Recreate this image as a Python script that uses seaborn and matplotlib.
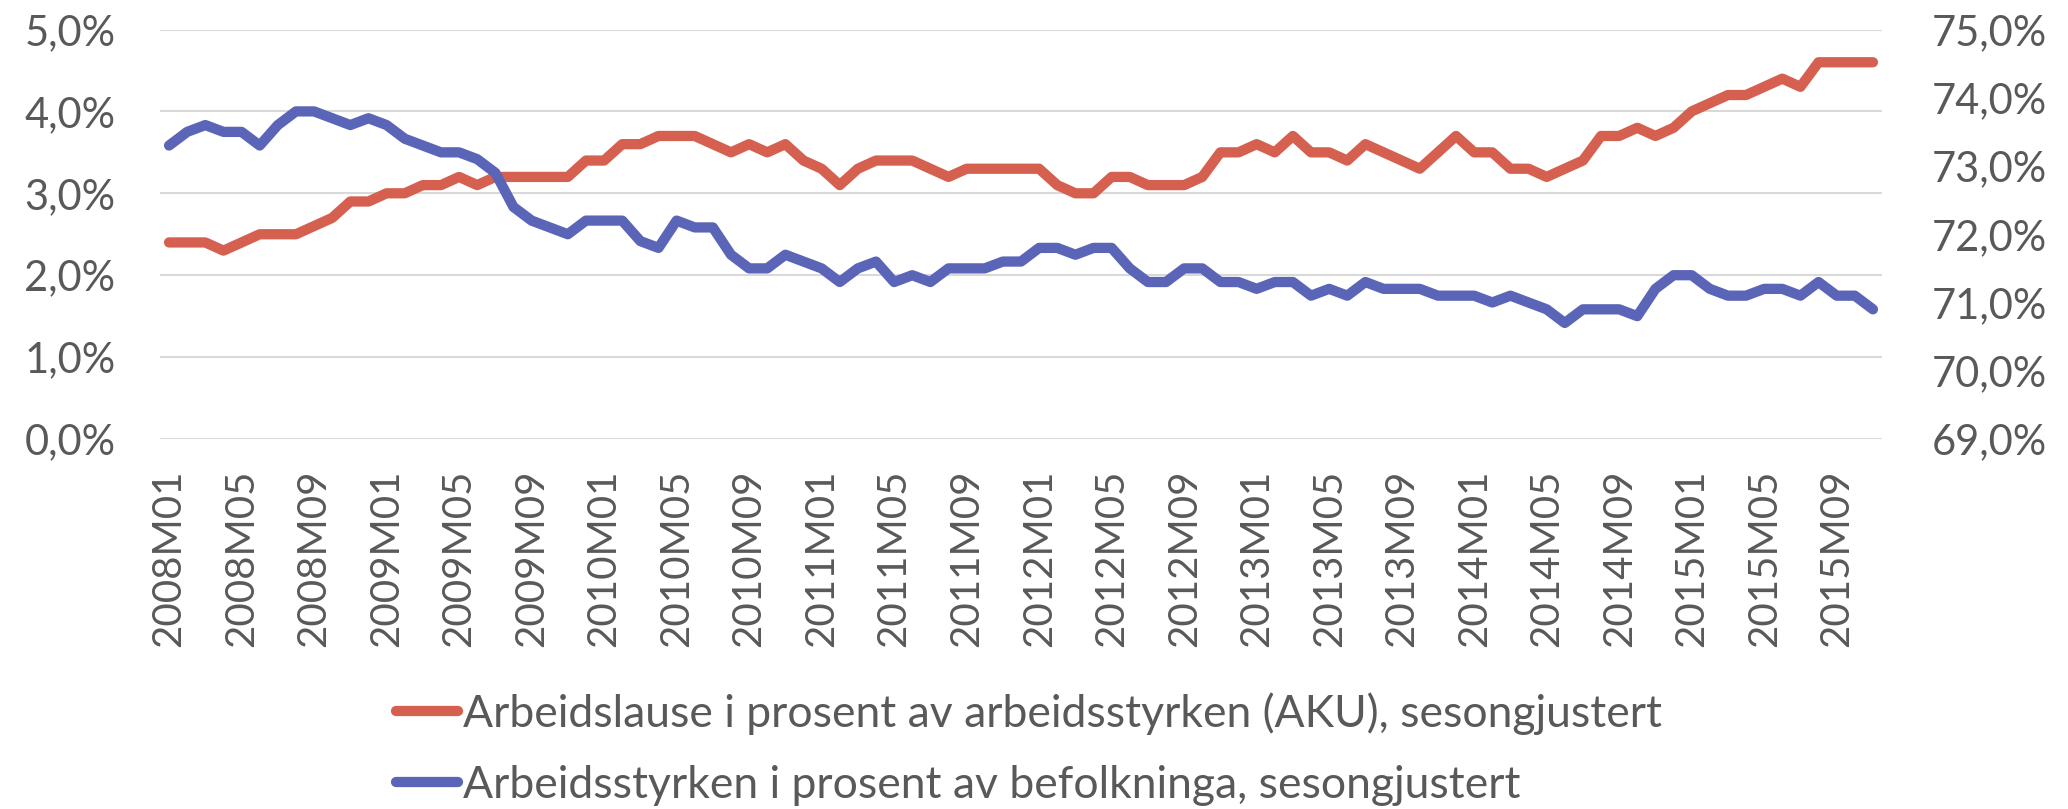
import numpy as np
import pandas as pd
import matplotlib
matplotlib.use("Agg")
import matplotlib.pyplot as plt
import seaborn as sns

# ---- data ----
years = list(range(2008, 2016))
months = [f"{y}M{m:02d}" for y in years for m in range(1, 13)][:95]  # 2008M01 .. 2015M11

unemployment = [
    2.4, 2.4, 2.4, 2.3, 2.4, 2.5, 2.5, 2.5, 2.6, 2.7, 2.9, 2.9, 3.0, 3.0, 3.1, 3.1,
    3.2, 3.1, 3.2, 3.2, 3.2, 3.2, 3.2, 3.4, 3.4, 3.6, 3.6, 3.7, 3.7, 3.7, 3.6, 3.5,
    3.6, 3.5, 3.6, 3.4, 3.3, 3.1, 3.3, 3.4, 3.4, 3.4, 3.3, 3.2, 3.3, 3.3, 3.3, 3.3,
    3.3, 3.1, 3.0, 3.0, 3.2, 3.2, 3.1, 3.1, 3.1, 3.2, 3.5, 3.5, 3.6, 3.5, 3.7, 3.5,
    3.5, 3.4, 3.6, 3.5, 3.4, 3.3, 3.5, 3.7, 3.5, 3.5, 3.3, 3.3, 3.2, 3.3, 3.4, 3.7,
    3.7, 3.8, 3.7, 3.8, 4.0, 4.1, 4.2, 4.2, 4.3, 4.4, 4.3, 4.6, 4.6, 4.6, 4.6,
]

labour_force = [
    73.3, 73.5, 73.6, 73.5, 73.5, 73.3, 73.6, 73.8, 73.8, 73.7, 73.6, 73.7, 73.6, 73.4, 73.3, 73.2,
    73.2, 73.1, 72.9, 72.4, 72.2, 72.1, 72.0, 72.2, 72.2, 72.2, 71.9, 71.8, 72.2, 72.1, 72.1, 71.7,
    71.5, 71.5, 71.7, 71.6, 71.5, 71.3, 71.5, 71.6, 71.3, 71.4, 71.3, 71.5, 71.5, 71.5, 71.6, 71.6,
    71.8, 71.8, 71.7, 71.8, 71.8, 71.5, 71.3, 71.3, 71.5, 71.5, 71.3, 71.3, 71.2, 71.3, 71.3, 71.1,
    71.2, 71.1, 71.3, 71.2, 71.2, 71.2, 71.1, 71.1, 71.1, 71.0, 71.1, 71.0, 70.9, 70.7, 70.9, 70.9,
    70.9, 70.8, 71.2, 71.4, 71.4, 71.2, 71.1, 71.1, 71.2, 71.2, 71.1, 71.3, 71.1, 71.1, 70.9,
]

label_unemp = "Arbeidslause i prosent av arbeidsstyrken (AKU), sesongjustert"
label_lf = "Arbeidsstyrken i prosent av befolkninga, sesongjustert"

left_ticks = [0, 1, 2, 3, 4, 5]
right_ticks = [69, 70, 71, 72, 73, 74, 75]

# ---- style ----
sns.set_theme(style="white")
plt.rcParams["font.family"] = ["Lato", "DejaVu Sans"]

RED = "#D5604F"
BLUE = "#5B65B8"
TXT = "#595959"
GRID = "#D9D9D9"

df = pd.DataFrame({
    "idx": np.arange(len(months)),
    "month": months,
    "unemp": unemployment,
    "lf": labour_force,
})

W, H = 2068, 809
fig = plt.figure(figsize=(W / 100, H / 100), dpi=100)
ax = fig.add_axes([160 / W, 1 - 439 / H, (1882 - 160) / W, (439 - 29.5) / H])
ax2 = ax.twinx()

sns.lineplot(data=df, x="idx", y="unemp", ax=ax, color=RED, linewidth=7.4,
             solid_capstyle="round", solid_joinstyle="round", label=label_unemp, legend=False)
sns.lineplot(data=df, x="idx", y="lf", ax=ax2, color=BLUE, linewidth=7.4,
             solid_capstyle="round", solid_joinstyle="round", label=label_lf, legend=False)

ax.set_xlim(-0.5, len(months) - 0.5)
ax.set_ylim(0, 5)
ax2.set_ylim(69, 75)

ax.set_yticks(left_ticks)
ax.set_yticklabels([f"{v:.1f}%".replace(".", ",") for v in left_ticks])
ax2.set_yticks(right_ticks)
ax2.set_yticklabels([f"{v:.1f}%".replace(".", ",") for v in right_ticks])

xt = list(range(0, len(months), 4))
ax.set_xticks(xt)
ax.set_xticklabels([months[i] for i in xt], rotation=90)

ax.yaxis.grid(True, color=GRID, linewidth=1.5)
ax.xaxis.grid(False)
ax2.grid(False)
ax.set_axisbelow(True)

for a in (ax, ax2):
    for s in a.spines.values():
        s.set_visible(False)
    a.set_xlabel("")
    a.set_ylabel("")

ax.tick_params(axis="y", length=0, pad=32, labelsize=30, labelcolor=TXT)
ax2.tick_params(axis="y", length=0, pad=36, labelsize=30, labelcolor=TXT)
ax.tick_params(axis="x", length=0, pad=22, labelsize=29, labelcolor=TXT)

handles = ax.get_lines()[:1] + ax2.get_lines()[:1]
leg = fig.legend(handles, [label_unemp, label_lf], loc="center left",
                 bbox_to_anchor=(396 / W, 1 - 749 / H), frameon=False,
                 fontsize=32, handlelength=1.4, handletextpad=0.1,
                 labelspacing=0.67, borderpad=0, borderaxespad=0)
for t in leg.get_texts():
    t.set_color(TXT)

fig.savefig("out.png", dpi=100, facecolor="white")
